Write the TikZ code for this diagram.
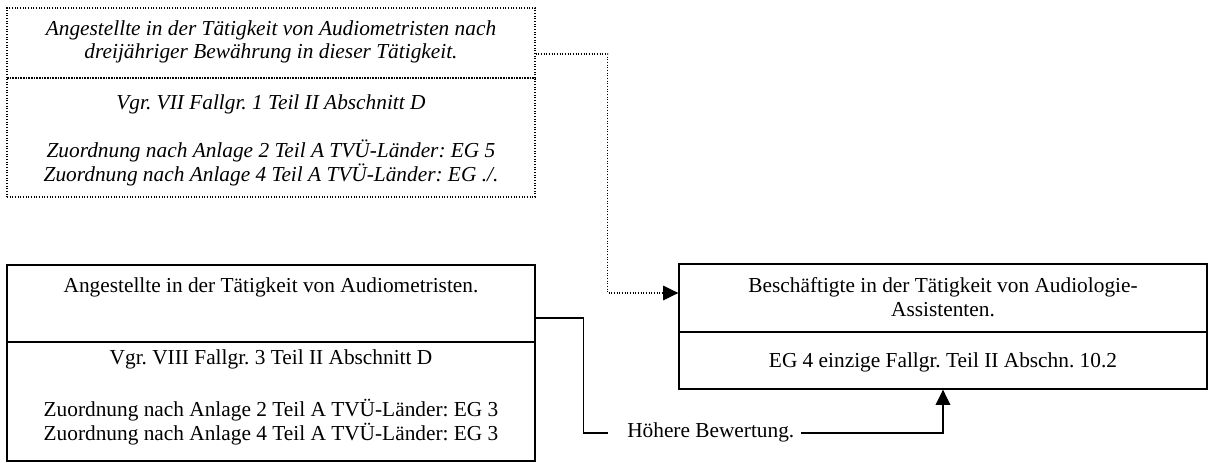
\documentclass[tikz,border=0pt]{standalone}
\usepackage{fontspec}
\setmainfont{Liberation Serif}
\usetikzlibrary{arrows.meta,calc}
\begin{document}
\begin{tikzpicture}[x=0.75pt,y=-0.75pt,
  txt/.style={font=\fontsize{16}{18}\selectfont\frenchspacing, inner sep=0pt, anchor=base},
  itxt/.style={txt, font=\fontsize{16}{18}\selectfont\frenchspacing\itshape},
  solidsec/.style={draw, line width=1pt, minimum width=396pt, inner sep=0pt},
  dotsec/.style={draw, line width=0.9pt, dash pattern=on 0.8pt off 1.2pt, minimum width=396pt, inner sep=0pt},
  dotline/.style={line width=0.9pt, dash pattern=on 0.8pt off 1.2pt},
  conn/.style={line width=1pt},
  tip/.style={-{Triangle[length=11.5pt,width=11pt]}}
]
\useasboundingbox (0,0) rectangle (1208,463);

% top dotted box
\node[dotsec, minimum height=52.5pt] (topA) at (271,43) {};
\node[dotsec, minimum height=89.25pt] (topB) at (271,137.5) {};
\node[itxt] (t1) at (271,36) {Angestellte in der Tätigkeit von Audiometristen nach};
\node[itxt] (t2) at (271,59) {dreijähriger Bewährung in dieser Tätigkeit.};
\node[itxt] (t3) at (271,110) {Vgr. VII Fallgr. 1 Teil II Abschnitt D};
\node[itxt] (t4) at (271,158) {Zuordnung nach Anlage 2 Teil A TVÜ-Länder: EG 5};
\node[itxt] (t5) at (271,182) {Zuordnung nach Anlage 4 Teil A TVÜ-Länder: EG ./.};

% lower left box
\node[solidsec, minimum height=57.75pt] (llA) at (271,303.5) {};
\node[solidsec, minimum height=89.25pt] (llB) at (271,401.5) {};
\node[txt] (l1) at (271,293) {Angestellte in der Tätigkeit von Audiometristen.};
\node[txt] (l2) at (271,365) {Vgr. VIII Fallgr. 3 Teil II Abschnitt D};
\node[txt] (l3) at (271,417) {Zuordnung nach Anlage 2 Teil A TVÜ-Länder: EG 3};
\node[txt] (l4) at (271,441) {Zuordnung nach Anlage 4 Teil A TVÜ-Länder: EG 3};

% right box
\node[solidsec, minimum height=51pt] (rA) at (943,298) {};
\node[solidsec, minimum height=42.75pt] (rB) at (943,360.5) {};
\node[txt] (r1) at (943,293) {Beschäftigte in der Tätigkeit von Audiologie-};
\node[txt] (r2) at (943,317) {Assistenten.};
\node[txt] (r3) at (943,368) {EG 4 einzige Fallgr. Teil II Abschn. 10.2};

% label
\node[txt, anchor=base west] (lbl) at (627,438) {Höhere Bewertung.};

% connectors
\draw[dotline, tip] ($(topA.east)+(0,11)$) -- ++(72,0) |- ($(rA.west)+(0,-5)$);
\draw[conn] ($(llA.east)+(0,14.5)$) -- ++(48,0) |- ([xshift=-14pt]lbl.west);
\draw[conn, tip] ([xshift=5pt]lbl.east) -| (rB.south);
\end{tikzpicture}
\end{document}
